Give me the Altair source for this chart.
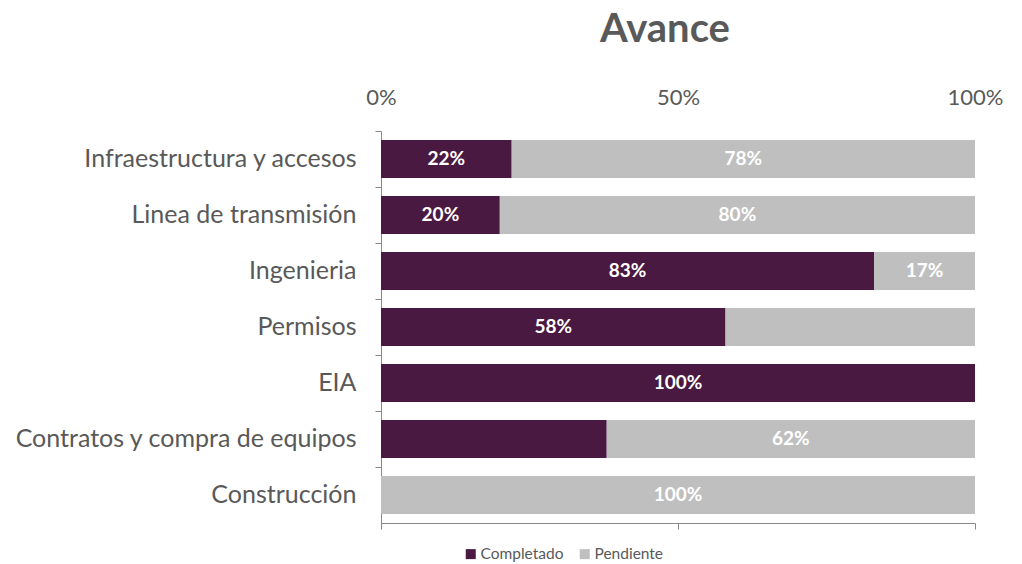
import altair as alt
import pandas as pd

categories = ["Infraestructura y accesos", "Linea de transmisión", "Ingenieria",
              "Permisos", "EIA", "Contratos y compra de equipos", "Construcción"]
completado = [22, 20, 83, 58, 100, 38, 0]
pendiente = [78, 80, 17, 42, 0, 62, 100]
label_completado = ["22%", "20%", "83%", "58%", "100%", "", ""]
label_pendiente = ["78%", "80%", "17%", "", "", "62%", "100%"]
series = ["Completado", "Pendiente"]
x_ticks = [0, 50, 100]

rows = []
for i, c in enumerate(categories):
    rows.append({"cat": c, "serie": "Completado", "ord": 0, "val": completado[i], "lab": label_completado[i]})
    rows.append({"cat": c, "serie": "Pendiente", "ord": 1, "val": pendiente[i], "lab": label_pendiente[i]})
df = pd.DataFrame(rows)

FONT = "Lato"
GRAY = "#595959"

y_enc = alt.Y("cat:N", sort=categories, title=None,
              scale=alt.Scale(paddingInner=0, paddingOuter=0),
              axis=alt.Axis(bandPosition=0, domainColor="#888888", tickColor="#888888",
                            tickSize=6, labelPadding=19, labelFontSize=25, labelColor=GRAY,
                            labelFont=FONT, labelLimit=400))

bars = alt.Chart(df).mark_bar(height=alt.RelativeBandSize(0.68)).encode(
    x=alt.X("val:Q", stack="zero", title=None,
            scale=alt.Scale(domain=[0, 100], nice=False),
            axis=alt.Axis(orient="top", values=x_ticks, labelExpr="datum.value + '%'",
                          domain=False, ticks=False, grid=False, labelPadding=22,
                          labelFlush=False,
                          labelFontSize=22, labelColor=GRAY, labelFont=FONT)),
    y=y_enc,
    color=alt.Color("serie:N", scale=alt.Scale(domain=series, range=["#4A1942", "#BFBFBF"]),
                    legend=alt.Legend(orient="none", legendX=82, legendY=415, direction="horizontal",
                                      title=None, symbolType="square", symbolSize=100,
                                      symbolStrokeWidth=0, labelFontSize=15.5, labelColor=GRAY,
                                      labelFont=FONT, columnPadding=13, labelOffset=2)),
    order=alt.Order("ord:Q"),
)

labels = alt.Chart(df).transform_stack(
    stack="val", groupby=["cat"], as_=["x0", "x1"], sort=[alt.SortField("ord")]
).transform_calculate(
    mid="(datum.x0 + datum.x1) / 2"
).mark_text(color="white", fontWeight="bold", fontSize=19, font=FONT).encode(
    x=alt.X("mid:Q", scale=alt.Scale(domain=[0, 100], nice=False), title=None,
            axis=alt.Axis(orient="bottom", values=x_ticks, labels=False, grid=False,
                          domainColor="#888888", tickColor="#888888", tickSize=6)),
    y=alt.Y("cat:N", sort=categories, title=None),
    text="lab:N",
)

chart = alt.layer(bars, labels).resolve_axis(x="independent").properties(
    width=594, height=392,
    autosize=alt.AutoSizeParams(type="none"),
    padding={"left": 373, "top": 123, "right": 30, "bottom": 41},
    background="white",
    title=alt.TitleParams("Avance", fontSize=40, fontWeight="bold", color=GRAY, font=FONT,
                          anchor="middle", dx=-13, offset=36),
).configure_view(stroke=None)

chart.save("out.html", embed_options={"renderer": "svg", "actions": False})
